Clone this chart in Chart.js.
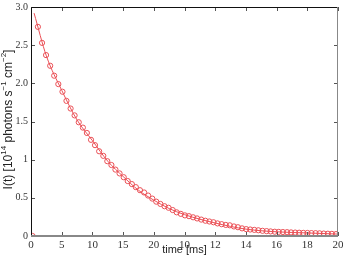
<!DOCTYPE html>
<html>
<head>
<meta charset="utf-8">
<script src="https://cdn.jsdelivr.net/npm/chart.js@4"></script>
<style>
  html, body { margin: 0; padding: 0; background: #fff; }
  #wrap { width: 343px; height: 267px; }
</style>
</head>
<body>
<div id="wrap"><canvas id="decayChart" width="343" height="267"></canvas></div>
<script>
// measured points (time in ms, intensity in 1e14 photons/s/cm2)
const timeMs = [0.45, 0.72, 0.98, 1.25, 1.51, 1.78, 2.05, 2.31, 2.58, 2.84,
  3.11, 3.38, 3.64, 3.91, 4.17, 4.44, 4.71, 4.97, 5.24, 5.50,
  5.77, 6.04, 6.30, 6.57, 6.83, 7.10, 7.37, 7.63, 7.90, 8.16,
  8.43, 8.70, 8.96, 9.23, 9.49, 9.76, 10.03, 10.29, 10.56, 10.82,
  11.09, 11.36, 11.62, 11.89, 12.15, 12.42, 12.69, 12.95, 13.22, 13.48,
  13.75, 14.02, 14.28, 14.55, 14.81, 15.08, 15.35, 15.61, 15.88, 16.14,
  16.41, 16.68, 16.94, 17.21, 17.47, 17.74, 18.01, 18.27, 18.54, 18.80,
  19.07, 19.34, 19.60, 19.87];
const intensity = [2.74, 2.53, 2.37, 2.23, 2.10, 1.99, 1.89, 1.77, 1.67, 1.58,
  1.49, 1.42, 1.35, 1.26, 1.19, 1.11, 1.05, 0.98, 0.93, 0.87,
  0.82, 0.77, 0.72, 0.68, 0.64, 0.60, 0.57, 0.53, 0.49, 0.45,
  0.42, 0.39, 0.37, 0.34, 0.31, 0.29, 0.27, 0.26, 0.245, 0.23,
  0.215, 0.20, 0.19, 0.18, 0.165, 0.155, 0.145, 0.14, 0.125, 0.115,
  0.10, 0.09, 0.085, 0.08, 0.075, 0.068, 0.064, 0.06, 0.056, 0.054,
  0.052, 0.05, 0.047, 0.045, 0.043, 0.041, 0.04, 0.038, 0.037, 0.035,
  0.032, 0.03, 0.028, 0.025];

// fitted decay curve
const fitTime = [0.2, 1, 2, 3, 4, 5, 6, 7, 8, 9, 10, 12, 14, 16, 18, 20];
const fitIntensity = [2.92, 2.36, 1.91, 1.52, 1.25, 0.98, 0.78, 0.60, 0.47, 0.36, 0.28, 0.17, 0.09, 0.055, 0.04, 0.025];

// stray point at the origin
const zeroTime = [0.1];
const zeroIntensity = [0];

// tick labels as printed on the figure
const xTickLabels = ["0", "5", "10", "15", "20", "10", "12", "14", "16", "18", "20"];
const yTickLabels = ["0", "0.5", "1", "1.5", "2.0", "2.5", "3.0"];

const RED = "rgb(234, 80, 86)";
const SERIF = "'Liberation Serif', 'Times New Roman', serif";
const SANS = "'Liberation Sans', Arial, sans-serif";

function toPoints(xs, ys) {
  return xs.map((x, i) => ({ x: x, y: ys[i] }));
}

// frame with inward ticks on all four sides (MATLAB style box)
const frameTicks = {
  id: "frameTicks",
  afterDraw(chart) {
    const { ctx, chartArea: a, scales } = chart;
    const len = 4;
    ctx.save();
    ctx.lineWidth = 1;
    ctx.strokeStyle = "#555";
    scales.x.ticks.forEach((t) => {
      const px = Math.round(scales.x.getPixelForValue(t.value)) + 0.5;
      ctx.beginPath();
      ctx.moveTo(px, a.bottom); ctx.lineTo(px, a.bottom - len);
      ctx.moveTo(px, a.top); ctx.lineTo(px, a.top + len);
      ctx.stroke();
    });
    scales.y.ticks.forEach((t) => {
      const py = Math.round(scales.y.getPixelForValue(t.value)) + 0.5;
      ctx.beginPath();
      ctx.moveTo(a.left, py); ctx.lineTo(a.left + len, py);
      ctx.moveTo(a.right, py); ctx.lineTo(a.right - len, py);
      ctx.stroke();
    });
    // box: dark left/top, grey right/bottom
    ctx.strokeStyle = "#111";
    ctx.beginPath();
    ctx.moveTo(a.left + 0.5, a.bottom); ctx.lineTo(a.left + 0.5, a.top + 0.5);
    ctx.lineTo(a.right, a.top + 0.5);
    ctx.stroke();
    ctx.strokeStyle = "#888";
    ctx.beginPath();
    ctx.moveTo(a.right - 0.5, a.top); ctx.lineTo(a.right - 0.5, a.bottom);
    ctx.stroke();
    ctx.lineWidth = 2;
    ctx.beginPath();
    ctx.moveTo(a.left, a.bottom); ctx.lineTo(a.right, a.bottom);
    ctx.stroke();
    ctx.restore();
  }
};

// rotated y title with superscripts
const yTitle = {
  id: "yTitle",
  afterDraw(chart) {
    const { ctx, chartArea: a } = chart;
    const parts = [
      ["I(t) [10", false], ["14", true], [" photons s", false],
      ["\u22121", true], [" cm", false], ["\u22122", true], ["]", false]
    ];
    const big = "12px " + SANS;
    const small = "8px " + SANS;
    ctx.save();
    let total = 0;
    parts.forEach(([s, sup]) => { ctx.font = sup ? small : big; total += ctx.measureText(s).width; });
    ctx.translate(9, (a.top + a.bottom) / 2 - 2);
    ctx.rotate(-Math.PI / 2);
    ctx.fillStyle = "#222";
    ctx.textBaseline = "middle";
    let x = -total / 2;
    parts.forEach(([s, sup]) => {
      ctx.font = sup ? small : big;
      ctx.fillText(s, x, sup ? -5 : 0);
      x += ctx.measureText(s).width;
    });
    ctx.restore();
  }
};

function initDecayChart() {
  const ctx = document.getElementById("decayChart");
  if (!ctx) return;

  new Chart(ctx, {
    type: "scatter",
    data: {
      datasets: [
        {
          data: toPoints(fitTime, fitIntensity),
          showLine: true,
          borderColor: RED,
          borderWidth: 1,
          pointRadius: 0,
          cubicInterpolationMode: "monotone",
        },
        {
          data: toPoints(timeMs, intensity),
          borderColor: RED,
          backgroundColor: "rgba(0,0,0,0)",
          borderWidth: 1,
          pointRadius: 2.6,
        },
        {
          data: toPoints(zeroTime, zeroIntensity),
          borderColor: RED,
          backgroundColor: "rgba(0,0,0,0)",
          borderWidth: 1,
          pointRadius: 2.6,
        },
      ],
    },
    options: {
      responsive: false,
      animation: false,
      layout: { padding: { top: 7, right: 4, left: 0, bottom: 0 } },
      plugins: { legend: { display: false }, tooltip: { enabled: false } },
      scales: {
        x: {
          type: "linear",
          min: 0,
          max: 20,
          grid: { display: false, drawTicks: false },
          border: { display: false },
          ticks: {
            stepSize: 2,
            padding: 3,
            maxRotation: 0,
            color: "#333",
            font: { family: SERIF, size: 11 },
            callback: (v, i) => xTickLabels[i],
          },
          title: {
            display: true,
            text: "time [ms]",
            color: "#222",
            font: { family: SANS, size: 11 },
            padding: { top: 0, bottom: 10 },
          },
          afterFit: (scale) => {
            scale.height = 31;
            scale.paddingLeft = 0;
            scale.paddingRight = 0;
          },
        },
        y: {
          min: 0,
          max: 3,
          grid: { display: false, drawTicks: false },
          border: { display: false },
          ticks: {
            stepSize: 0.5,
            padding: 3,
            color: "#333",
            font: { family: SERIF, size: 10 },
            callback: (v, i) => yTickLabels[i],
          },
          afterFit: (scale) => {
            scale.width = 31;
            scale.paddingTop = 0;
            scale.paddingBottom = 0;
          },
        },
      },
    },
    plugins: [frameTicks, yTitle],
  });
}

document.addEventListener("DOMContentLoaded", function () {
  initDecayChart();
});
</script>
</body>
</html>
